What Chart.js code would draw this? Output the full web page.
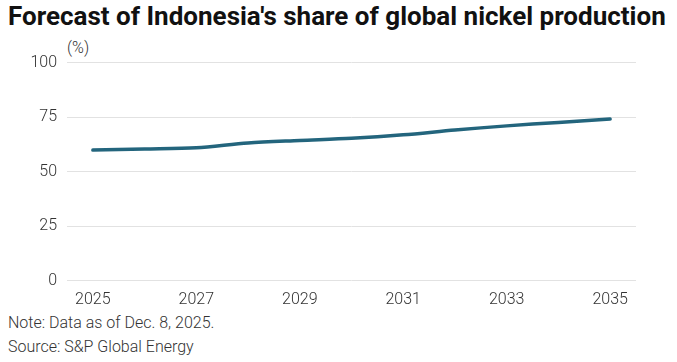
<!DOCTYPE html>
<html>
<head>
<meta charset="utf-8">
<script src="https://cdn.jsdelivr.net/npm/chart.js@4/dist/chart.umd.min.js"></script>
<style>
  body { margin: 0; background: #fff; font-family: Roboto, sans-serif; }
  #wrap { position: relative; width: 677px; height: 362px; overflow: hidden; }
  #title { position: absolute; left: 8px; top: 1px; font-size: 26px; font-weight: 700; color: #111; white-space: nowrap; }
  #unit { position: absolute; left: 67px; top: 38px; font-size: 16px; font-weight: 300; color: #333; }
  #box { position: absolute; left: 0; top: 43px; width: 677px; height: 269px; }
  .note { position: absolute; left: 8px; font-size: 16px; font-weight: 300; color: #333; }
</style>
</head>
<body>
<div id="wrap">
  <div id="title">Forecast of Indonesia's share of global nickel production</div>
  <div id="unit">(%)</div>
  <div id="box"><canvas id="myChart"></canvas></div>
  <div class="note" style="top:313px">Note: Data as of Dec. 8, 2025.</div>
  <div class="note" style="top:337px">Source: S&P Global Energy</div>
</div>
<script>
const years = ["2025", "2026", "2027", "2028", "2029", "2030", "2031", "2032", "2033", "2034", "2035"];
const share = [59.9, 60.4, 61.0, 63.2, 64.3, 65.3, 66.9, 69.1, 71.0, 72.6, 74.1];
const yTicks = [0, 25, 50, 75, 100];

const tickFont = { family: "Roboto", size: 16, weight: "300" };

const ctx = document.getElementById("myChart").getContext("2d");
const chart = new Chart(ctx, {
  type: "line",
  data: {
    labels: years,
    datasets: [
      {
        label: "Share",
        data: share,
        borderColor: "#23657d",
        borderWidth: 3.5,
        pointRadius: 0,
        tension: 0.3,
        borderCapStyle: "round",
      },
    ],
  },
  options: {
    animation: false,
    responsive: true,
    maintainAspectRatio: false,
    layout: { padding: { left: 0, right: 41, top: 2, bottom: 0 } },
    plugins: { legend: { display: false }, tooltip: { enabled: false } },
    scales: {
      x: {
        offset: true,
        grid: { display: false },
        border: { display: false },
        ticks: {
          autoSkip: false,
          maxRotation: 0,
          font: tickFont,
          color: "#333",
          padding: 2,
          callback: function (v, i) { return i % 2 === 0 ? years[i] : ""; },
        },
      },
      y: {
        min: 0,
        max: 100,
        afterBuildTicks: function (axis) { axis.ticks = yTicks.map(v => ({ value: v })); },
        afterFit: function (axis) { axis.width = 67; },
        grid: { color: "#e2e2e2", drawTicks: false },
        border: { display: false },
        ticks: { font: tickFont, color: "#333", padding: 10 },
      },
    },
  },
});
</script>
</body>
</html>
